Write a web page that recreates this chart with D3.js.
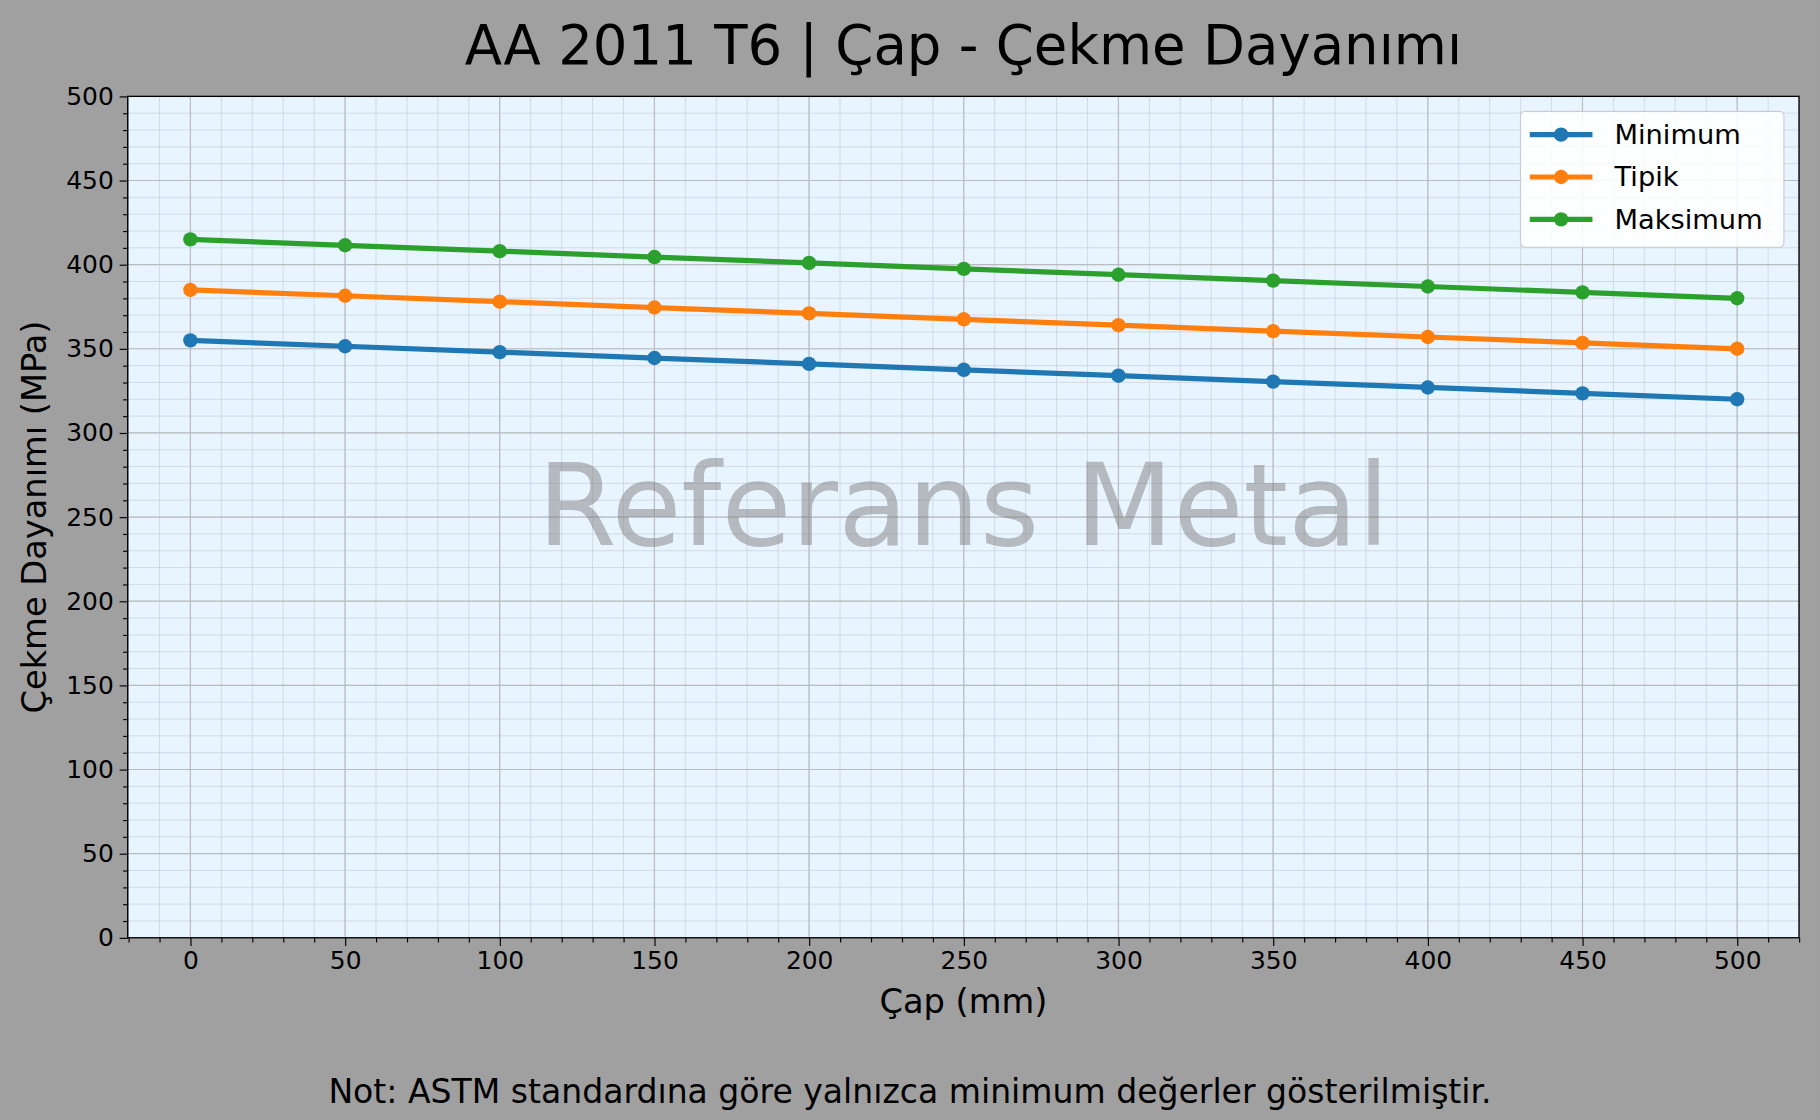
<!DOCTYPE html>
<html><head><meta charset="utf-8">
<script src="https://cdn.jsdelivr.net/npm/d3@7"></script>
<style>body{margin:0;background:#a0a0a0}svg{display:block;font-family:"DejaVu Sans",sans-serif}</style>
</head><body>
<svg id="c" width="1820" height="1120" viewBox="0 0 1568 965"></svg>
<script>
const diameters = [0, 50, 100, 150, 200, 250, 300, 350, 400, 450, 500];
const minimum = [355, 351.5, 348, 344.5, 341, 337.5, 334, 330.5, 327, 323.5, 320];
const tipik = [385, 381.5, 378, 374.5, 371, 367.5, 364, 360.5, 357, 353.5, 350];
const maksimum = [415, 411.5, 408, 404.5, 401, 397.5, 394, 390.5, 387, 383.5, 380];
const seriesNames = ["Minimum", "Tipik", "Maksimum"];
const colors = ["#1f77b4", "#ff7f0e", "#2ca02c"];
const yTicks = [0, 50, 100, 150, 200, 250, 300, 350, 400, 450, 500];

const svg = d3.select("#c");
const L = 110, R = 1550, T = 83, B = 808;
const x = d3.scaleLinear().domain([-20.25, 520]).range([L, R]);
const y = d3.scaleLinear().domain([0, 500]).range([B, T]);

svg.append("rect").attr("width", 1568).attr("height", 965).attr("fill", "#a0a0a0");
svg.append("rect").attr("x", L).attr("y", T).attr("width", R - L).attr("height", B - T).attr("fill", "#e8f4ff");

const minorX = d3.range(-20, 521, 10), minorY = d3.range(0, 501, 10);
const g = svg.append("g");
g.selectAll(".mx").data(minorX).join("line").attr("x1", d => x(d)).attr("x2", d => x(d))
  .attr("y1", T).attr("y2", B).attr("stroke", "#c8d0d8").attr("stroke-width", 0.6);
g.selectAll(".my").data(minorY).join("line").attr("y1", d => y(d)).attr("y2", d => y(d))
  .attr("x1", L).attr("x2", R).attr("stroke", "#c8d0d8").attr("stroke-width", 0.6);
g.selectAll(".gx").data(diameters).join("line").attr("x1", d => x(d)).attr("x2", d => x(d))
  .attr("y1", T).attr("y2", B).attr("stroke", "#b8bcc0").attr("stroke-width", 1);
g.selectAll(".gy").data(yTicks).join("line").attr("y1", d => y(d)).attr("y2", d => y(d))
  .attr("x1", L).attr("x2", R).attr("stroke", "#b8bcc0").attr("stroke-width", 1);

svg.append("text").attr("x", 830).attr("y", 470).attr("text-anchor", "middle")
  .attr("font-size", 98).attr("fill", "#808080").attr("fill-opacity", 0.5).text("Referans Metal");

svg.append("g").attr("transform", `translate(0,${B})`)
  .call(d3.axisBottom(x).tickValues(diameters).tickSizeOuter(0).tickSize(7).tickPadding(5));
svg.append("g").attr("transform", `translate(0,${B})`)
  .call(d3.axisBottom(x).tickValues(minorX.filter(d => d % 50 !== 0)).tickSize(4).tickFormat("").tickSizeOuter(0))
  .select(".domain").remove();
svg.append("g").attr("transform", `translate(${L},0)`)
  .call(d3.axisLeft(y).tickValues(yTicks).tickSizeOuter(0).tickSize(7).tickPadding(5));
svg.append("g").attr("transform", `translate(${L},0)`)
  .call(d3.axisLeft(y).tickValues(minorY.filter(d => d % 50 !== 0)).tickSize(4).tickFormat("").tickSizeOuter(0))
  .select(".domain").remove();
svg.selectAll(".tick text").attr("font-size", 21.5).attr("fill", "#000").attr("font-family", "DejaVu Sans");
svg.selectAll(".domain").remove();
svg.append("rect").attr("x", L).attr("y", T).attr("width", R - L).attr("height", B - T)
  .attr("fill", "none").attr("stroke", "#000").attr("stroke-width", 1.2);

const all = [minimum, tipik, maksimum];
const line = d3.line().x((d, i) => x(diameters[i])).y(d => y(d));
all.forEach((s, k) => {
  svg.append("path").attr("d", line(s)).attr("fill", "none").attr("stroke", colors[k]).attr("stroke-width", 4.5);
  svg.selectAll(null).data(s).join("circle").attr("cx", (d, i) => x(diameters[i])).attr("cy", d => y(d))
    .attr("r", 6.2).attr("fill", colors[k]);
});

const lg = svg.append("g");
lg.append("rect").attr("x", 1310).attr("y", 96).attr("width", 227).attr("height", 117).attr("rx", 4)
  .attr("fill", "#fff").attr("fill-opacity", 0.85).attr("stroke", "#ccc");
seriesNames.forEach((n, k) => {
  const yy = 116 + k * 36.5;
  lg.append("line").attr("x1", 1318).attr("x2", 1372).attr("y1", yy).attr("y2", yy).attr("stroke", colors[k]).attr("stroke-width", 4.5);
  lg.append("circle").attr("cx", 1345).attr("cy", yy).attr("r", 6.2).attr("fill", colors[k]);
  lg.append("text").attr("x", 1391).attr("y", yy + 8).attr("font-size", 23.5).text(n);
});

svg.append("text").attr("x", 830).attr("y", 55).attr("text-anchor", "middle").attr("font-size", 47).text("AA 2011 T6 | Çap - Çekme Dayanımı");
svg.append("text").attr("x", 830).attr("y", 873).attr("text-anchor", "middle").attr("font-size", 29).text("Çap (mm)");
svg.append("text").attr("transform", `translate(40,${(T + B) / 2}) rotate(-90)`).attr("text-anchor", "middle").attr("font-size", 29).text("Çekme Dayanımı (MPa)");
svg.append("text").attr("x", 784).attr("y", 950).attr("text-anchor", "middle").attr("font-size", 28.5).text("Not: ASTM standardına göre yalnızca minimum değerler gösterilmiştir.");
</script>
</body></html>
